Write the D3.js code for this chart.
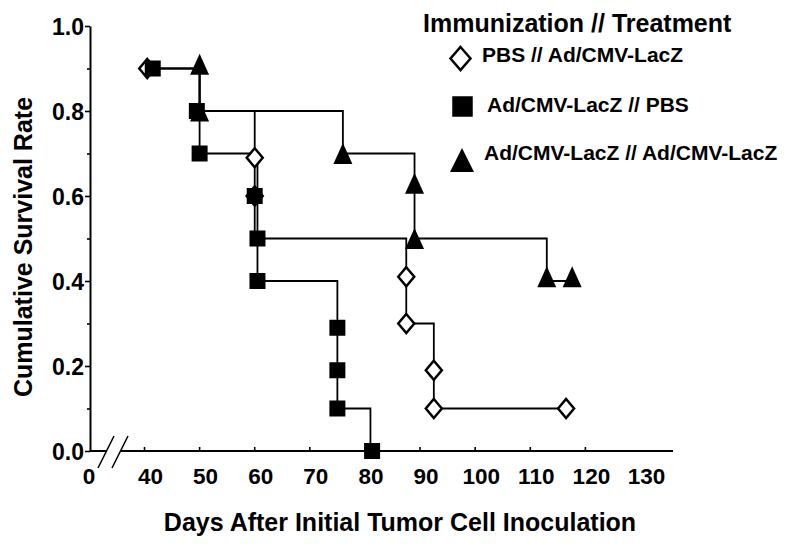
<!DOCTYPE html>
<html>
<head>
<meta charset="utf-8">
<script src="https://cdn.jsdelivr.net/npm/d3@7"></script>
<style>
  body { margin: 0; background: #fff; }
  svg text { font-family: "Liberation Sans", Arial, sans-serif; font-weight: bold; fill: #000; }
</style>
</head>
<body>
<svg id="chart" width="787" height="546"></svg>
<script>
// axis values
const xTickValues = [40, 50, 60, 70, 80, 90, 100, 110, 120];
const xLabelValues = [40, 50, 60, 70, 80, 90, 100, 110, 120, 130];
const yTickValues = [0, 0.1, 0.2, 0.3, 0.4, 0.5, 0.6, 0.7, 0.8, 0.9, 1.0];
const yLabelValues = [0, 0.2, 0.4, 0.6, 0.8, 1.0];

const seriesNames = ['PBS // Ad/CMV-LacZ', 'Ad/CMV-LacZ // PBS', 'Ad/CMV-LacZ // Ad/CMV-LacZ'];

// step curves, [day, survival]
const pbsAdSteps = [[39.5, 0.9], [49, 0.8], [59, 0.5], [86.5, 0.3], [91.5, 0.1], [115.5, 0.1]];
const adPbsSteps = [[40.5, 0.9], [49, 0.7], [59.5, 0.4], [74, 0.1], [80, 0]];
const adAdSteps = [[49, 0.9], [49, 0.8], [75, 0.7], [88, 0.5], [112, 0.4], [116.6, 0.4]];

// markers, [day, survival]
const pbsAdMarks = [[39.5, 0.9], [59, 0.69], [59, 0.6], [86.5, 0.41], [86.5, 0.3], [91.5, 0.19], [91.5, 0.1], [115.5, 0.1]];
const adPbsMarks = [[40.5, 0.9], [48.5, 0.8], [49, 0.7], [59, 0.6], [59.5, 0.5], [59.5, 0.4], [74, 0.29], [74, 0.19], [74, 0.1], [80.3, 0]];
const adAdMarks = [[49, 0.91], [49, 0.8], [75, 0.7], [88, 0.63], [88, 0.5], [112, 0.41], [116.6, 0.41]];

const svg = d3.select('#chart');

const x = d3.scaleLinear().domain([40, 130]).range([150, 646]);
const y = d3.scaleLinear().domain([0, 1]).range([451, 26]);
const axisX0 = 90;

const diamondPath = (w, h) => `M0,${-h / 2}L${w / 2},0L0,${h / 2}L${-w / 2},0Z`;
const squarePath = (s) => `M${-s / 2},${-s / 2}h${s}v${s}h${-s}Z`;
const trianglePath = (w, h) => `M0,${-h / 2}L${w / 2},${h / 2}L${-w / 2},${h / 2}Z`;

// y axis
const yAxis = svg.append('g')
  .attr('transform', `translate(${axisX0},0)`)
  .call(d3.axisLeft(y)
    .tickValues(yTickValues)
    .tickSize(5)
    .tickSizeOuter(0)
    .tickPadding(1)
    .tickFormat(d => yLabelValues.some(v => Math.abs(v - d) < 1e-9) ? d3.format('.1f')(d) : ''));
yAxis.select('.domain').attr('stroke-width', 2);
yAxis.selectAll('.tick line')
  .attr('stroke-width', 1.6)
  .attr('x2', d => yLabelValues.some(v => Math.abs(v - d) < 1e-9) ? -5 : -3);
yAxis.selectAll('.tick text').style('font-size', '23px').attr('dy', '0.36em');

// x axis
const xAxis = svg.append('g')
  .attr('transform', `translate(0,${y(0)})`)
  .call(d3.axisBottom(x)
    .tickValues(xLabelValues)
    .tickSizeInner(-4)
    .tickSizeOuter(0)
    .tickPadding(17)
    .tickFormat(d3.format('d')));
xAxis.select('.domain').remove();
xAxis.selectAll('.tick line')
  .attr('stroke-width', 1.6)
  .attr('transform', 'translate(-6,0)')
  .attr('display', d => xTickValues.includes(d) ? null : 'none');
xAxis.selectAll('.tick text').style('font-size', '22.5px');

// broken x axis line
svg.append('line').attr('x1', axisX0).attr('x2', 106).attr('y1', y(0)).attr('y2', y(0))
  .attr('stroke', '#000').attr('stroke-width', 2);
svg.append('line').attr('x1', 121).attr('x2', 673).attr('y1', y(0)).attr('y2', y(0))
  .attr('stroke', '#000').attr('stroke-width', 2);
svg.append('line').attr('x1', 98).attr('y1', 468).attr('x2', 114).attr('y2', 436)
  .attr('stroke', '#000').attr('stroke-width', 1.6);
svg.append('line').attr('x1', 112).attr('y1', 468).attr('x2', 128).attr('y2', 436)
  .attr('stroke', '#000').attr('stroke-width', 1.6);
svg.append('text').attr('x', 89).attr('y', y(0) + 17).attr('dy', '0.71em')
  .attr('text-anchor', 'middle').style('font-size', '22.5px').text('0');

// survival curves
const line = d3.line()
  .x(d => x(d[0]))
  .y(d => y(d[1]))
  .curve(d3.curveStepAfter);

[pbsAdSteps, adPbsSteps, adAdSteps].forEach(steps => {
  svg.append('path')
    .attr('d', line(steps))
    .attr('fill', 'none')
    .attr('stroke', '#000')
    .attr('stroke-width', 1.8);
});

// markers: diamonds, then triangles, then squares on top
svg.append('g').selectAll('path').data(pbsAdMarks).join('path')
  .attr('transform', d => `translate(${x(d[0])},${y(d[1])})`)
  .attr('d', diamondPath(16, 19))
  .attr('fill', '#fff').attr('stroke', '#000').attr('stroke-width', 2.5);

svg.append('g').selectAll('path').data(adAdMarks).join('path')
  .attr('transform', d => `translate(${x(d[0])},${y(d[1])})`)
  .attr('d', trianglePath(19, 21))
  .attr('fill', '#000');

svg.append('g').selectAll('path').data(adPbsMarks).join('path')
  .attr('transform', d => `translate(${x(d[0])},${y(d[1])})`)
  .attr('d', squarePath(16))
  .attr('fill', '#000');

// axis titles
svg.append('text')
  .attr('x', 400).attr('y', 531)
  .attr('text-anchor', 'middle')
  .style('font-size', '25px')
  .text('Days After Initial Tumor Cell Inoculation');

svg.append('text')
  .attr('transform', 'translate(32,247) rotate(-90)')
  .attr('text-anchor', 'middle')
  .style('font-size', '25px')
  .text('Cumulative Survival Rate');

// legend
const legend = svg.append('g');
legend.append('text').attr('x', 423).attr('y', 32).style('font-size', '25px')
  .text('Immunization // Treatment');

const legendRows = [
  { name: seriesNames[0], mx: 460.5, my: 58.5, tx: 482, ty: 62, d: diamondPath(20, 23), fill: '#fff', stroke: '#000' },
  { name: seriesNames[1], mx: 462.5, my: 106.5, tx: 487, ty: 112, d: squarePath(20.5), fill: '#000', stroke: 'none' },
  { name: seriesNames[2], mx: 462, my: 160, tx: 484, ty: 160, d: trianglePath(24, 24), fill: '#000', stroke: 'none' }
];

legendRows.forEach(r => {
  legend.append('path')
    .attr('transform', `translate(${r.mx},${r.my})`)
    .attr('d', r.d)
    .attr('fill', r.fill)
    .attr('stroke', r.stroke)
    .attr('stroke-width', 2.5);
  legend.append('text').attr('x', r.tx).attr('y', r.ty)
    .style('font-size', '21px')
    .text(r.name);
});
</script>
</body>
</html>
